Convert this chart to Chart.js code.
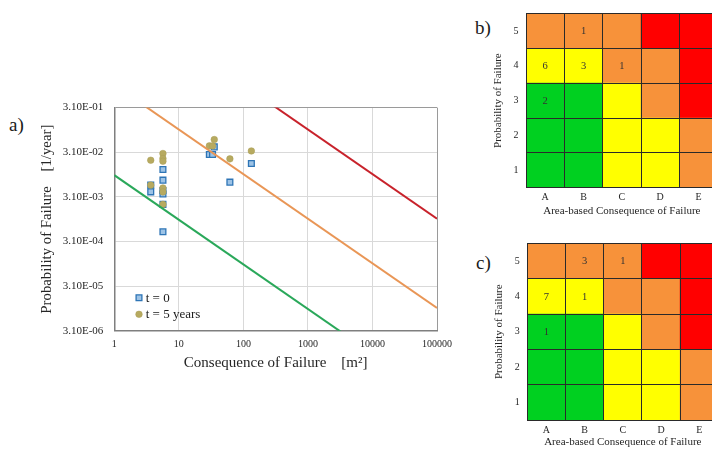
<!DOCTYPE html>
<html>
<head>
<meta charset="utf-8">
<script src="https://cdn.jsdelivr.net/npm/chart.js@4.4.1/dist/chart.umd.min.js"></script>
<style>
  html, body { margin: 0; padding: 0; background: #fff; overflow: hidden; }
  body { position: relative; width: 712px; height: 454px; font-family: "Liberation Serif", "Times New Roman", serif; }
  canvas { position: absolute; }
  .tag { position: absolute; font-size: 19px; line-height: 19px; color: #1a1a1a; }
</style>
</head>
<body>
<div class="tag" style="left:9px;top:115px">a)</div>
<div class="tag" style="left:475px;top:18px">b)</div>
<div class="tag" style="left:476px;top:253px">c)</div>
<canvas id="scatter" width="460" height="290" style="left:0;top:90px"></canvas>
<canvas id="riskT0" width="250" height="225" style="left:470px;top:0"></canvas>
<canvas id="riskT5" width="250" height="225" style="left:470px;top:230px"></canvas>
<script>
Chart.defaults.font.family = '"Liberation Serif", "Times New Roman", serif';
Chart.defaults.color = '#262626';

// a) consequence of failure [m2] vs probability of failure [1/year]
const consT0 = [3.67, 3.67, 5.67, 5.67, 5.67, 5.67, 5.67, 5.67, 29.7, 33.3, 35.4, 61.8, 133];
const probT0 = [0.00567, 0.00401, 0.0127, 0.00733, 0.0043, 0.0036, 0.0021, 0.00051, 0.0275, 0.0275, 0.0408, 0.00661, 0.0173];
const consT5 = [3.67, 3.67, 5.67, 5.67, 5.67, 5.67, 5.67, 5.67, 29.7, 33.3, 35.4, 61.8, 133];
const probT5 = [0.0205, 0.00567, 0.029, 0.0224, 0.0195, 0.0049, 0.0040, 0.0021, 0.0429, 0.0429, 0.0596, 0.022, 0.0331];

// iso-risk lines (p = k / C)
const lineCons = [1, 100000];
const redProb = [100, 0.001];
const orangeProb = [1, 0.00001];
const greenProb = [0.0095, 0.000000095];

const consTicks = [1, 10, 100, 1000, 10000, 100000];
const consTickLabels = ['1', '10', '100', '1000', '10000', '100000'];
const probTicks = [3.1e-6, 3.1e-5, 3.1e-4, 3.1e-3, 3.1e-2, 3.1e-1];
const probTickLabels = ['3.10E-06', '3.10E-05', '3.10E-04', '3.10E-03', '3.10E-02', '3.10E-01'];

// b), c) risk matrices: rows 1..5 bottom to top, columns A..E
const riskCols = ['A', 'B', 'C', 'D', 'E'];
const riskRows = [1, 2, 3, 4, 5];
const riskLevels = [
  [0, 0, 1, 1, 2],
  [0, 0, 1, 1, 2],
  [0, 0, 1, 2, 3],
  [1, 1, 2, 2, 3],
  [2, 2, 2, 3, 3],
];
const countsT0 = [
  [0, 0, 0, 0, 0],
  [0, 0, 0, 0, 0],
  [2, 0, 0, 0, 0],
  [6, 3, 1, 0, 0],
  [0, 1, 0, 0, 0],
];
const countsT5 = [
  [0, 0, 0, 0, 0],
  [0, 0, 0, 0, 0],
  [1, 0, 0, 0, 0],
  [7, 1, 0, 0, 0],
  [0, 3, 1, 0, 0],
];
const levelColours = ['#00d020', '#ffff00', '#f7923a', '#ff0000'];

const toPoints = (xs, ys) => xs.map((x, i) => ({ x, y: ys[i] }));

// legend drawn inside the plot, lower left
const insideLegend = {
  id: 'insideLegend',
  afterDraw(chart, args, opts) {
    const { ctx, chartArea } = chart;
    ctx.save();
    ctx.font = '13px "Liberation Serif", serif';
    ctx.textBaseline = 'middle';
    opts.items.forEach((idx, i) => {
      const ds = chart.data.datasets[idx];
      const x = chartArea.left + 24.7;
      const y = chartArea.bottom - 33 + i * 16.6;
      ctx.fillStyle = ds.backgroundColor;
      ctx.strokeStyle = ds.borderColor;
      ctx.lineWidth = ds.borderWidth;
      ctx.beginPath();
      if (ds.pointStyle === 'rect') {
        const h = ds.pointRadius * Math.SQRT1_2;
        ctx.rect(x - h, y - h, 2 * h, 2 * h);
      } else {
        ctx.arc(x, y, ds.pointRadius, 0, Math.PI * 2);
      }
      ctx.fill();
      if (ds.borderWidth > 0) ctx.stroke();
      ctx.fillStyle = '#1a1a1a';
      ctx.fillText(ds.label, chartArea.left + 31.4, y + 0.5);
    });
    ctx.restore();
  },
};

new Chart(document.getElementById('scatter'), {
  type: 'scatter',
  data: {
    datasets: [
      { label: 'red', data: toPoints(lineCons, redProb), showLine: true, borderColor: '#c8222b', borderWidth: 2, pointRadius: 0, clip: 0, order: 0 },
      { label: 'orange', data: toPoints(lineCons, orangeProb), showLine: true, borderColor: '#e99656', borderWidth: 2, pointRadius: 0, clip: 0, order: 0 },
      { label: 'green', data: toPoints(lineCons, greenProb), showLine: true, borderColor: '#2aa85a', borderWidth: 2, pointRadius: 0, clip: 0, order: 0 },
      { label: 't = 5 years', data: toPoints(consT5, probT5), pointStyle: 'circle', pointRadius: 3.3, backgroundColor: '#b7aa60', borderColor: '#a99c55', borderWidth: 0.5, order: 1 },
      { label: 't = 0', data: toPoints(consT0, probT0), pointStyle: 'rect', pointRadius: 4.1, backgroundColor: '#9dc3e6', borderColor: '#2e75b6', borderWidth: 1.3, order: 2 },
    ],
  },
  options: {
    responsive: false,
    animation: false,
    events: [],
    layout: { padding: { left: 37.8, top: 17.3, right: 20.7, bottom: 8.3 } },
    plugins: {
      legend: { display: false },
      tooltip: { enabled: false },
      insideLegend: { items: [4, 3] },
    },
    scales: {
      x: {
        type: 'logarithmic',
        min: 1,
        max: 100000,
        afterBuildTicks: (s) => { s.ticks = consTicks.map((v) => ({ value: v })); },
        ticks: { callback: (v, i) => consTickLabels[i], font: { size: 10 }, padding: 8, maxRotation: 0, autoSkip: false },
        grid: { color: (c) => (c.index === consTicks.length - 1 ? '#9a9a9a' : '#d9d9d9'), drawTicks: false },
        border: { color: '#7f7f7f', width: 1.5 },
        title: { display: true, text: 'Consequence of Failure    [m²]', font: { size: 15 }, padding: 0 },
        afterFit: (s) => { s.height = 41; },
      },
      y: {
        type: 'logarithmic',
        min: 3.1e-6,
        max: 3.1e-1,
        afterBuildTicks: (s) => { s.ticks = probTicks.map((v) => ({ value: v })); },
        ticks: { callback: (v, i) => probTickLabels[i], font: { size: 11 }, padding: 11, autoSkip: false },
        grid: { color: (c) => (c.index === probTicks.length - 1 ? '#9a9a9a' : '#d9d9d9'), drawTicks: false },
        border: { color: '#7f7f7f', width: 1.5 },
        title: { display: true, text: 'Probability of Failure    [1/year]', font: { size: 14.8 }, padding: 0 },
        afterFit: (s) => { s.width = 76.5; },
      },
    },
  },
  plugins: [insideLegend],
});

// numbers written in the matrix cells
const cellCounts = {
  id: 'cellCounts',
  afterDraw(chart, args, opts) {
    const { ctx } = chart;
    const xs = chart.scales.x;
    const ys = chart.scales.y;
    ctx.save();
    ctx.font = '10.5px "Liberation Serif", serif';
    ctx.fillStyle = '#333';
    ctx.textAlign = 'center';
    ctx.textBaseline = 'middle';
    opts.counts.forEach((row, r) => {
      row.forEach((n, c) => {
        if (!n) return;
        ctx.fillText(String(n), xs.getPixelForValue(c), ys.getPixelForValue(riskRows[r] - 0.5) + 0.5);
      });
    });
    ctx.restore();
  },
};

function makeMatrix(id, counts, box) {
  const lineCol = '#2a2a2a';
  return new Chart(document.getElementById(id), {
    type: 'bar',
    data: {
      labels: riskCols,
      datasets: riskRows.map((row, r) => ({
        label: String(row),
        data: riskCols.map(() => 1),
        backgroundColor: riskLevels[r].map((l) => levelColours[l]),
        borderWidth: 0,
        barPercentage: 1,
        categoryPercentage: 1,
      })),
    },
    options: {
      responsive: false,
      animation: false,
      events: [],
      layout: { padding: box.padding },
      plugins: {
        legend: { display: false },
        tooltip: { enabled: false },
        cellCounts: { counts },
      },
      scales: {
        x: {
          stacked: true,
          grid: { offset: true, color: lineCol, z: 1, drawTicks: false },
          border: { color: lineCol, z: 1 },
          ticks: { font: { size: 10 }, padding: 4 },
          title: { display: true, text: 'Area-based Consequence of Failure', font: { size: 11 }, padding: 0 },
          afterFit: (s) => { s.height = box.xh; },
        },
        y: {
          stacked: true,
          min: 0,
          max: 5,
          afterBuildTicks: (s) => { s.ticks = riskRows.map((r) => ({ value: r - 0.5 })); },
          ticks: { font: { size: 10 }, padding: 7.5, callback: (v, i) => riskRows[i] },
          grid: { offset: true, color: lineCol, z: 1, drawTicks: false },
          border: { color: lineCol, z: 1 },
          title: { display: true, text: 'Probability of Failure', font: { size: 11 }, padding: 0 },
          afterFit: (s) => { s.width = box.yw; },
        },
      },
    },
    plugins: [cellCounts],
  });
}

makeMatrix('riskT0', countsT0, { padding: { left: 21.7, top: 9.3, right: 2.3, bottom: 7.7 }, yw: 34.3, xh: 29.6 });
makeMatrix('riskT5', countsT5, { padding: { left: 22.7, top: 10.7, right: 1.7, bottom: 6.7 }, yw: 34.6, xh: 28.3 });
</script>
</body>
</html>
